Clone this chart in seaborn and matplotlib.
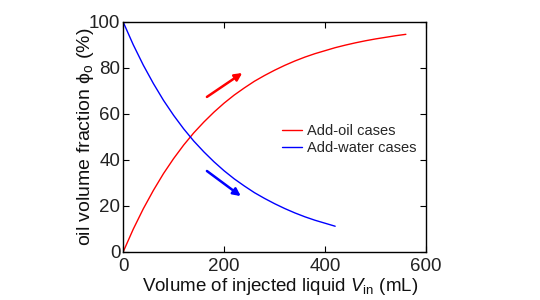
import numpy as np
import pandas as pd
import matplotlib
matplotlib.use('Agg')
import matplotlib.pyplot as plt
import seaborn as sns

# valores
vol_oil = [0, 20, 40, 60, 80, 100, 120, 140, 160, 180, 200, 220, 240, 260, 280, 300,
           320, 340, 360, 380, 400, 420, 440, 460, 480, 500, 520, 540, 560]
phi_oil = [0, 9.9, 18.8, 26.8, 34.1, 40.6, 46.5, 51.8, 56.5, 60.8, 64.7, 68.2, 71.3, 74.2,
           76.7, 79.0, 81.1, 83.0, 84.7, 86.2, 87.5, 88.8, 89.9, 90.9, 91.8, 92.6, 93.3, 94.0, 94.6]

vol_water = [0, 20, 40, 60, 80, 100, 120, 140, 160, 180, 200, 220, 240, 260, 280, 300,
             320, 340, 360, 380, 400, 420]
phi_water = [100, 90.1, 81.2, 73.2, 65.9, 59.4, 53.5, 48.2, 43.5, 39.2, 35.3, 31.8, 28.7, 25.8,
             23.3, 21.0, 18.9, 17.0, 15.3, 13.8, 12.5, 11.2]

labels = ['Add-oil cases', 'Add-water cases']
cores = ['#ff0000', '#0000ff']

df = pd.concat([
    pd.DataFrame({'V': vol_oil, 'phi': phi_oil, 'caso': labels[0]}),
    pd.DataFrame({'V': vol_water, 'phi': phi_water, 'caso': labels[1]}),
])

sns.set_style('ticks')
plt.rcParams['font.family'] = ['Liberation Sans', 'DejaVu Sans']
plt.rcParams['mathtext.fontset'] = 'custom'
plt.rcParams['mathtext.rm'] = 'Liberation Sans'
plt.rcParams['mathtext.it'] = 'Liberation Sans:italic'
plt.rcParams['xtick.direction'] = 'in'
plt.rcParams['ytick.direction'] = 'in'

fig = plt.figure(figsize=(5.4, 3.0), dpi=100)
ax = fig.add_axes([0.228, 0.16, 0.561, 0.767])

sns.lineplot(data=df, x='V', y='phi', hue='caso', palette=cores, linewidth=1.0,
             ax=ax, sort=False)

ax.set_xlim(0, 600)
ax.set_ylim(0, 100)
ax.set_xticks([0, 200, 400, 600])
ax.set_yticks([0, 20, 40, 60, 80, 100])
ax.tick_params(axis='both', labelsize=13.5, labelcolor='#222222', color='black',
               length=4, width=0.8, top=True, right=True)
ax.tick_params(axis='y', pad=2)
ax.tick_params(axis='x', pad=4)
for s in ax.spines.values():
    s.set_linewidth(1.0)
    s.set_color('black')

ax.set_xlabel(r'Volume of injected liquid $V_\mathrm{in}$ (mL)', fontsize=13.5,
              color='#111111', labelpad=0)
ax.xaxis.set_label_coords(0.517, -0.105)
ax.set_ylabel(r'oil volume fraction $\mathrm{\phi}_\mathrm{o}$ (%)', fontsize=14,
              color='#111111', labelpad=-5)

# setas
ax.annotate('', xy=(236, 77.8), xytext=(166, 67.4),
            arrowprops=dict(arrowstyle='-|>', color='#ff0000', lw=1.8,
                            mutation_scale=11, shrinkA=0, shrinkB=0))
ax.annotate('', xy=(233, 24.3), xytext=(166, 35.2),
            arrowprops=dict(arrowstyle='-|>', color='#0000ff', lw=1.8,
                            mutation_scale=11, shrinkA=0, shrinkB=0))

ax.legend(title=None, frameon=False, fontsize=10.5, loc='center left',
          bbox_to_anchor=(0.502, 0.49), handlelength=1.35, handletextpad=0.3,
          labelspacing=0.2, borderpad=0)

fig.savefig('out.png', dpi=100)
